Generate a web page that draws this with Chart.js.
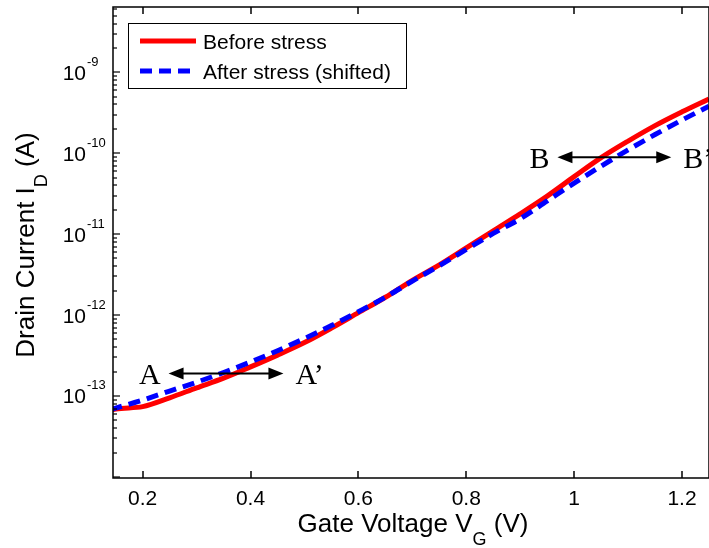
<!DOCTYPE html>
<html>
<head>
<meta charset="utf-8">
<script src="https://cdn.jsdelivr.net/npm/chart.js@4/dist/chart.umd.min.js"></script>
<style>
  html, body { margin: 0; padding: 0; background: #fff; overflow: hidden; }
  canvas { display: block; }
</style>
</head>
<body>
<canvas id="chart" width="709" height="548"></canvas>
<script>
// Gate voltage (V) and drain current (A)
const gateVoltage = [0.14, 0.15, 0.20, 0.25, 0.30, 0.35, 0.40, 0.45, 0.50, 0.55, 0.60, 0.65,
  0.70, 0.75, 0.80, 0.85, 0.90, 0.95, 1.00, 1.05, 1.10, 1.15, 1.20, 1.25];
const beforeStress = [6.6e-14, 6.9e-14, 7.4e-14, 9.5e-14, 1.26e-13, 1.66e-13, 2.29e-13, 3.2e-13,
  4.57e-13, 6.9e-13, 1.07e-12, 1.66e-12, 2.69e-12, 4.17e-12, 6.76e-12, 1.10e-11, 1.78e-11,
  2.95e-11, 5.13e-11, 8.8e-11, 1.41e-10, 2.19e-10, 3.24e-10, 4.68e-10];
const afterStress = [6.8e-14, 7.1e-14, 8.9e-14, 1.15e-13, 1.48e-13, 1.95e-13, 2.63e-13, 3.63e-13,
  5.13e-13, 7.41e-13, 1.10e-12, 1.66e-12, 2.63e-12, 4.07e-12, 6.46e-12, 1.02e-11, 1.55e-11,
  2.57e-11, 4.27e-11, 6.92e-11, 1.10e-10, 1.70e-10, 2.57e-10, 3.80e-10];

const xTickValues = [0.2, 0.4, 0.6, 0.8, 1, 1.2];
const yTickExponents = [-13, -12, -11, -10, -9];

// shift arrows: [left label, right label, V from, V to, current]
const shiftArrows = [
  ["A", "A\u2019", 0.248, 0.461, 1.9e-13],
  ["B", "B\u2019", 0.969, 1.180, 8.9e-11],
];

const SANS = '"Liberation Sans", Arial, Helvetica, sans-serif';
const SERIF = '"Liberation Serif", "Times New Roman", serif';

const RED = "#ff0000";
const BLUE = "#0000ff";
const DASH = [12, 7];

function line(ctx, x0, y0, x1, y1) {
  ctx.beginPath();
  ctx.moveTo(x0, y0);
  ctx.lineTo(x1, y1);
  ctx.stroke();
}

// draws text pieces in sequence: [text, size, baselineShift]
function runs(ctx, parts, x, y) {
  let cx = x;
  parts.forEach(([t, size, dy]) => {
    ctx.font = `${size}px ${SANS}`;
    ctx.fillText(t, cx, y + dy);
    cx += ctx.measureText(t).width;
  });
}
function runsWidth(ctx, parts) {
  return parts.reduce((w, [t, size]) => {
    ctx.font = `${size}px ${SANS}`;
    return w + ctx.measureText(t).width;
  }, 0);
}

const framePlugin = {
  id: "frame",
  afterDraw(chart) {
    const { ctx, chartArea: a, scales: { x, y } } = chart;
    ctx.save();
    ctx.strokeStyle = "#000";
    ctx.fillStyle = "#000";
    ctx.lineWidth = 1.5;
    ctx.strokeRect(a.left, a.top, a.right - a.left, a.bottom - a.top);

    // x ticks (bottom and top, inward)
    xTickValues.forEach((v) => {
      const px = Math.round(x.getPixelForValue(v));
      line(ctx, px, a.bottom, px, a.bottom - 7);
      line(ctx, px, a.top, px, a.top + 7);
    });

    // y ticks, log major + minor
    ctx.lineWidth = 1.2;
    for (let k = -14; k <= -9; k++) {
      for (let m = 1; m <= 9; m++) {
        const v = m * Math.pow(10, k);
        if (v < y.min || v > y.max) continue;
        const py = Math.round(y.getPixelForValue(v));
        line(ctx, a.left, py, a.left + (m === 1 ? 7 : 4), py);
      }
    }

    // y tick labels 10^k
    yTickExponents.forEach((k) => {
      const py = y.getPixelForValue(Math.pow(10, k));
      ctx.font = `21px ${SANS}`;
      ctx.textAlign = "right";
      ctx.fillText("10", 86, py + 7.5);
      ctx.font = `13px ${SANS}`;
      ctx.textAlign = "left";
      ctx.fillText(String(k), 87, py - 6.5);
    });

    // axis titles
    ctx.textAlign = "left";
    const xt = [["Gate Voltage V", 26, 0], ["G", 18, 13], [" (V)", 26, 0]];
    runs(ctx, xt, 413 - runsWidth(ctx, xt) / 2, 531.5);

    const yt = [["Drain Current I", 26, 0], ["D", 18, 13], [" (A)", 26, 0]];
    ctx.save();
    ctx.translate(33.5, 245);
    ctx.rotate(-Math.PI / 2);
    runs(ctx, yt, -runsWidth(ctx, yt) / 2, 0);
    ctx.restore();

    // shift arrows with labels
    shiftArrows.forEach(([l0, l1, v0, v1, cur]) => {
      const x0 = x.getPixelForValue(v0);
      const x1 = x.getPixelForValue(v1);
      const py = y.getPixelForValue(cur);
      ctx.lineWidth = 2;
      line(ctx, x0 + 10, py, x1 - 10, py);
      [[x0, 1], [x1, -1]].forEach(([tx, dir]) => {
        ctx.beginPath();
        ctx.moveTo(tx, py);
        ctx.lineTo(tx + dir * 15, py - 6);
        ctx.lineTo(tx + dir * 15, py + 6);
        ctx.closePath();
        ctx.fill();
      });
      ctx.font = `30px ${SERIF}`;
      ctx.textAlign = "right";
      ctx.fillText(l0, x0 - 8, py + 10.5);
      ctx.textAlign = "left";
      ctx.fillText(l1, x1 + 12, py + 10.5);
    });

    // legend
    const ds = chart.data.datasets;
    ctx.lineWidth = 1;
    ctx.fillStyle = "#fff";
    ctx.fillRect(128.5, 23.5, 278, 65);
    ctx.strokeRect(128.5, 23.5, 278, 65);
    ds.forEach((d, i) => {
      const ly = 41 + i * 30;
      ctx.strokeStyle = d.borderColor;
      ctx.lineWidth = 5;
      ctx.setLineDash(d.borderDash || []);
      line(ctx, 140, ly, 196, ly);
      ctx.setLineDash([]);
      ctx.fillStyle = "#000";
      ctx.font = `21px ${SANS}`;
      ctx.textAlign = "left";
      ctx.fillText(d.label, 203, ly + 8);
    });
    ctx.restore();
  },
};

new Chart(document.getElementById("chart"), {
  type: "line",
  data: {
    datasets: [
      {
        label: "Before stress",
        data: gateVoltage.map((v, i) => ({ x: v, y: beforeStress[i] })),
        borderColor: RED,
        borderWidth: 5,
        pointRadius: 0,
        cubicInterpolationMode: "monotone",
        order: 2,
      },
      {
        label: "After stress (shifted)",
        data: gateVoltage.map((v, i) => ({ x: v, y: afterStress[i] })),
        borderColor: BLUE,
        borderWidth: 5,
        borderDash: DASH,
        pointRadius: 0,
        cubicInterpolationMode: "monotone",
        order: 1,
      },
    ],
  },
  options: {
    responsive: false,
    animation: false,
    devicePixelRatio: 1,
    layout: { padding: { top: 7, right: 0, left: 0, bottom: 0 } },
    plugins: { legend: { display: false }, tooltip: { enabled: false } },
    scales: {
      x: {
        type: "linear",
        min: 0.145,
        max: 1.25,
        grid: { display: false, drawTicks: false },
        border: { display: false },
        afterBuildTicks: (s) => { s.ticks = xTickValues.map((v) => ({ value: v })); },
        afterFit: (s) => { s.height = 70; },
        ticks: {
          color: "#000",
          font: { family: SANS, size: 21 },
          padding: 9,
          maxRotation: 0,
          callback: (v) => String(v),
        },
      },
      y: {
        type: "logarithmic",
        min: 9.7e-15,
        max: 6.4e-9,
        grid: { display: false },
        border: { display: false },
        ticks: { display: false },
        afterFit: (s) => { s.width = 113; },
      },
    },
  },
  plugins: [framePlugin],
});
</script>
</body>
</html>
